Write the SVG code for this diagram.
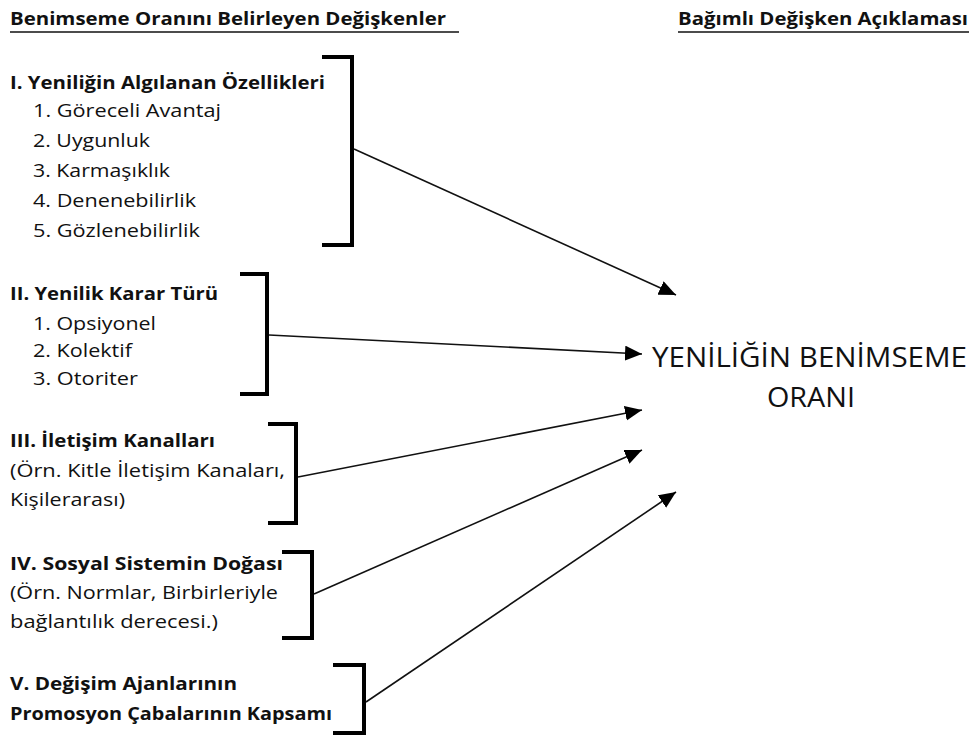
<svg xmlns="http://www.w3.org/2000/svg" width="975" height="737" viewBox="0 0 975 737">
  <style>
    .hd { font-family: "Open Sans", "Noto Sans", sans-serif; font-size: 18.5px; font-weight: bold; fill: #111; }
    .tx { font-family: "Open Sans", "Noto Sans", sans-serif; font-size: 19px; fill: #111; }
    .big { font-family: "Open Sans", "Noto Sans", sans-serif; font-size: 27px; fill: #111; }
    .ul { stroke: #111; stroke-width: 1.6; }
    .br { fill: none; stroke: #000; stroke-width: 4; stroke-linejoin: miter; }
    .cn { stroke: #111; stroke-width: 1.6; fill: none; marker-end: url(#ah); }
  </style>
  <defs>
    <marker id="ah" markerUnits="userSpaceOnUse" markerWidth="18" markerHeight="16" refX="17" refY="7.5" orient="auto">
      <path d="M0,0 L17,7.5 L0,15 z" fill="#000"/>
    </marker>
  </defs>
  <rect width="975" height="737" fill="#fff"/>

  <!-- column headings -->
  <g id="heading-left">
    <text class="hd" x="10" y="25" textLength="436" lengthAdjust="spacingAndGlyphs">Benimseme Oranını Belirleyen Değişkenler</text>
    <line class="ul" x1="10" y1="32" x2="459" y2="32"/>
  </g>
  <g id="heading-right">
    <text class="hd" x="678" y="25" textLength="290" lengthAdjust="spacingAndGlyphs">Bağımlı Değişken Açıklaması</text>
    <line class="ul" x1="678" y1="32" x2="969" y2="32"/>
  </g>

  <!-- I -->
  <g id="group-1">
    <text class="hd" x="10" y="89" textLength="315" lengthAdjust="spacingAndGlyphs">I. Yeniliğin Algılanan Özellikleri</text>
    <text class="tx" x="33" y="117" textLength="188" lengthAdjust="spacingAndGlyphs">1. Göreceli Avantaj</text>
    <text class="tx" x="33" y="147" textLength="117" lengthAdjust="spacingAndGlyphs">2. Uygunluk</text>
    <text class="tx" x="33" y="177" textLength="137" lengthAdjust="spacingAndGlyphs">3. Karmaşıklık</text>
    <text class="tx" x="33" y="207" textLength="163" lengthAdjust="spacingAndGlyphs">4. Denenebilirlik</text>
    <text class="tx" x="33" y="237" textLength="167" lengthAdjust="spacingAndGlyphs">5. Gözlenebilirlik</text>
    <path class="br" d="M322,57 H352 V245 H322"/>
  </g>

  <!-- II -->
  <g id="group-2">
    <text class="hd" x="10" y="300" textLength="208" lengthAdjust="spacingAndGlyphs">II. Yenilik Karar Türü</text>
    <text class="tx" x="33" y="330" textLength="123" lengthAdjust="spacingAndGlyphs">1. Opsiyonel</text>
    <text class="tx" x="33" y="357" textLength="99" lengthAdjust="spacingAndGlyphs">2. Kolektif</text>
    <text class="tx" x="33" y="385" textLength="105" lengthAdjust="spacingAndGlyphs">3. Otoriter</text>
    <path class="br" d="M240,274 H267 V394 H240"/>
  </g>

  <!-- III -->
  <g id="group-3">
    <text class="hd" x="10" y="447" textLength="205" lengthAdjust="spacingAndGlyphs">III. İletişim Kanalları</text>
    <text class="tx" x="10" y="477" textLength="275" lengthAdjust="spacingAndGlyphs">(Örn. Kitle İletişim Kanaları,</text>
    <text class="tx" x="10" y="506" textLength="115" lengthAdjust="spacingAndGlyphs">Kişilerarası)</text>
    <path class="br" d="M268,424 H296 V523 H268"/>
  </g>

  <!-- IV -->
  <g id="group-4">
    <text class="hd" x="10" y="570" textLength="273" lengthAdjust="spacingAndGlyphs">IV. Sosyal Sistemin Doğası</text>
    <text class="tx" x="10" y="599" textLength="268" lengthAdjust="spacingAndGlyphs">(Örn. Normlar, Birbirleriyle</text>
    <text class="tx" x="10" y="628" textLength="208" lengthAdjust="spacingAndGlyphs">bağlantılık derecesi.)</text>
    <path class="br" d="M282,552 H312 V638 H282"/>
  </g>

  <!-- V -->
  <g id="group-5">
    <text class="hd" x="10" y="690" textLength="227" lengthAdjust="spacingAndGlyphs">V. Değişim Ajanlarının</text>
    <text class="hd" x="10" y="720" textLength="322" lengthAdjust="spacingAndGlyphs">Promosyon Çabalarının Kapsamı</text>
    <path class="br" d="M333,665 H364 V733 H333"/>
  </g>

  <!-- dependent variable -->
  <g id="outcome">
    <text class="big" x="652" y="367" textLength="315" lengthAdjust="spacingAndGlyphs">YENİLİĞİN BENİMSEME</text>
    <text class="big" x="767" y="407" textLength="88" lengthAdjust="spacingAndGlyphs">ORANI</text>
  </g>

  <!-- connectors -->
  <g id="connectors">
    <line class="cn" x1="354" y1="149" x2="676" y2="295"/>
    <line class="cn" x1="269" y1="335" x2="642" y2="354"/>
    <line class="cn" x1="298" y1="477" x2="642" y2="410"/>
    <line class="cn" x1="314" y1="594" x2="642" y2="450"/>
    <line class="cn" x1="366" y1="702" x2="676" y2="492"/>
  </g>
</svg>
